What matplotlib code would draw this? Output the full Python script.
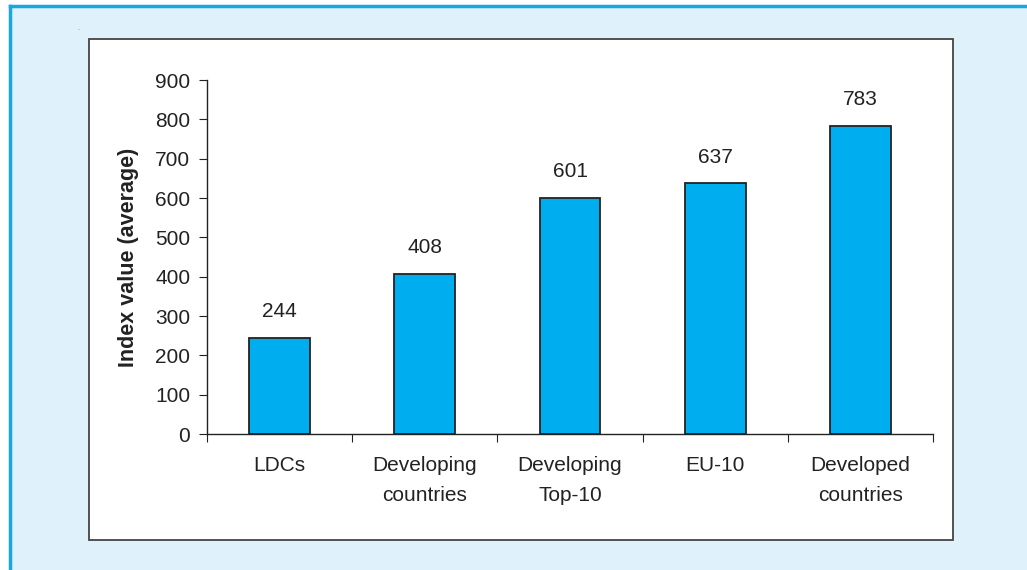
import numpy as np
import matplotlib.pyplot as plt
from matplotlib.patches import Rectangle
from matplotlib.lines import Line2D

plt.rcParams['font.family'] = ['Liberation Sans', 'DejaVu Sans']

# data
categories = ["LDCs", "Developing\ncountries", "Developing\nTop-10", "EU-10", "Developed\ncountries"]
values = [244, 408, 601, 637, 783]
yticks = [0, 100, 200, 300, 400, 500, 600, 700, 800, 900]

BAR_COLOR = "#00AEEF"
BG_COLOR = "#DFF1FA"
BORDER_COLOR = "#1BA6E2"
FS = 15

fig = plt.figure(figsize=(10.27, 5.70), dpi=100)
fig.patch.set_facecolor("white")

# light blue panel with blue left/top border
fig.patches.append(Rectangle((9 / 1027, 0), 1, 1 - 6 / 570, transform=fig.transFigure,
                             facecolor=BG_COLOR, edgecolor="none", zorder=0))
fig.lines.append(Line2D([9.5 / 1027, 9.5 / 1027], [0, 1 - 5.5 / 570], transform=fig.transFigure,
                        color=BORDER_COLOR, lw=2.5, zorder=1))
fig.lines.append(Line2D([9.5 / 1027, 1], [1 - 5.5 / 570, 1 - 5.5 / 570], transform=fig.transFigure,
                        color=BORDER_COLOR, lw=2.5, zorder=1))
# white chart box
fig.patches.append(Rectangle((89 / 1027, 30 / 570), (953 - 89) / 1027, (531 - 30) / 570,
                             transform=fig.transFigure, facecolor="white",
                             edgecolor="#444444", lw=1.3, zorder=1))
fig.text(78 / 1027, 1 - 29 / 570, ".", fontsize=5, color="#666666", ha="center", va="center")

ax = fig.add_axes([207 / 1027, 1 - 434 / 570, (933 - 207) / 1027, (434 - 80) / 570])
ax.set_facecolor("none")
ax.set_zorder(5)

x = np.arange(len(categories))
bars = ax.bar(x, values, width=0.42, color=BAR_COLOR, edgecolor="#222222", lw=1.3, zorder=3)
for xi, v in zip(x, values):
    ax.annotate(str(v), (xi, v), xytext=(0, 12), textcoords="offset points",
                ha="center", va="bottom", fontsize=FS, color="#222222")

ax.set_xlim(-0.5, len(categories) - 0.5)
ax.set_ylim(0, 900)
ax.set_yticks(yticks)
ax.set_xticks(np.arange(len(categories) + 1) - 0.5, minor=False)
ax.set_xticklabels([])
ax.set_xticks(x, minor=True)
ax.set_xticklabels(categories, minor=True, fontsize=FS, color="#222222", linespacing=1.7)
ax.tick_params(axis="x", which="minor", length=0, pad=16)
ax.tick_params(axis="x", which="major", length=6, direction="out", color="#222222")
ax.tick_params(axis="y", length=6, direction="out", color="#222222", labelsize=FS,
               labelcolor="#222222", pad=6)

for s in ["top", "right"]:
    ax.spines[s].set_visible(False)
for s in ["left", "bottom"]:
    ax.spines[s].set_color("#222222")
    ax.spines[s].set_linewidth(1.0)

ax.set_ylabel("Index value (average)", fontsize=15.5, fontweight="bold", color="#222222", labelpad=12)

fig.savefig("out.png", dpi=100)
